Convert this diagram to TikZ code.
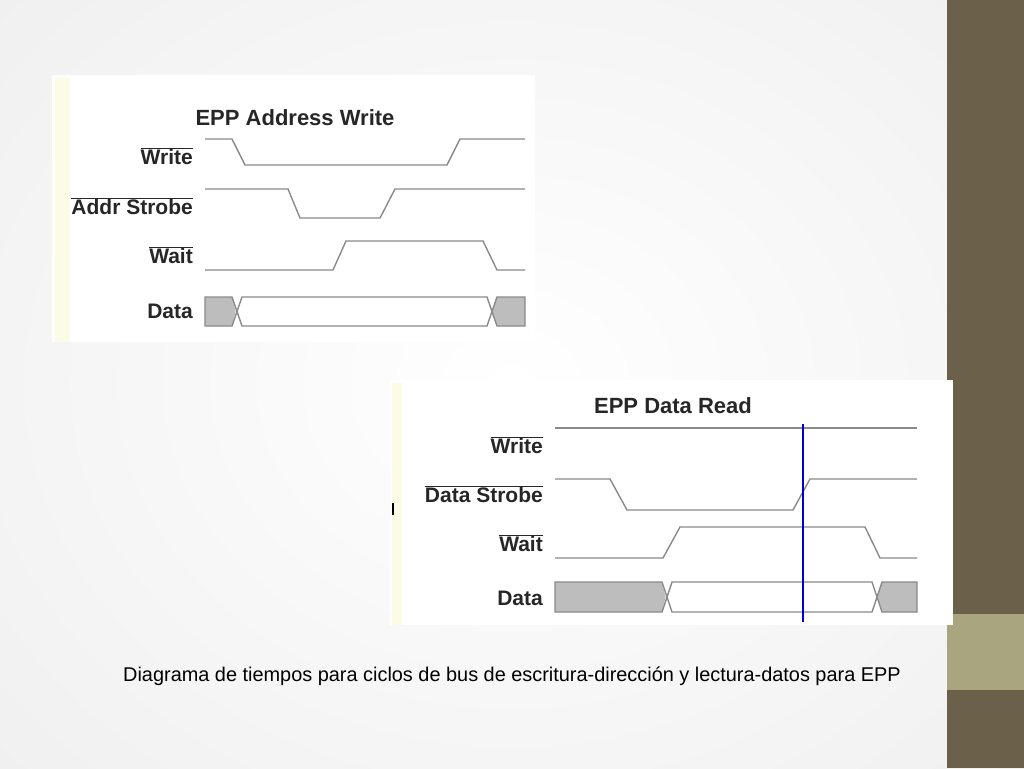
\documentclass[tikz,border=0pt]{standalone}
\usepackage{fontspec}
\setmainfont{Liberation Sans}
\definecolor{barbrown}{HTML}{6B614B}
\definecolor{barlight}{HTML}{A9A57E}
\definecolor{paleyel}{HTML}{FCFBE6}
\definecolor{wave}{HTML}{8A8A8A}
\definecolor{band}{HTML}{BDBDBD}
\tikzset{sig/.style={draw=wave, line width=1.4pt},
  lab/.style={anchor=east, font=\fontsize{21}{21}\selectfont\bfseries, inner sep=0pt, text=black!85},
  ttl/.style={font=\fontsize{22}{22}\selectfont\bfseries, inner sep=0pt, text=black!85}}
% data band: x0,x1 (gray left), x2,x3 (gray right), top, bottom
\def\databand(#1,#2,#3,#4,#5,#6){
  \fill[band] (#1,#5) -- (#2,#5) -- ({(#2+#2+7)/2},{(#5+#6)/2}) -- (#2,#6) -- (#1,#6) -- cycle;
  \fill[band] (#4,#5) -- (#3,#5) -- ({#3-5},{(#5+#6)/2}) -- (#3,#6) -- (#4,#6) -- cycle;
  \draw[sig] (#1,#5) -- (#2,#5) -- ({#2+10},#6) -- ({#3-10},#6) -- (#3,#5) -- (#4,#5) -- (#4,#6) -- (#3,#6) -- ({#3-10},#5) -- ({#2+10},#5) -- (#2,#6) -- (#1,#6) -- cycle;}
\begin{document}
\begin{tikzpicture}[x=1pt,y=-1pt]
\useasboundingbox (0,0) rectangle (1024,768);
\shade[inner color=white, outer color=gray!12] (-200,-200) rectangle (1224,968);
\fill[barbrown] (947,0) rectangle (1024,768);
\fill[barlight] (947,614) rectangle (1024,690);

% top panel
\fill[white] (52,75) rectangle (535,342);
\fill[paleyel] (55,78) rectangle (70,342);
\node[ttl] (t1) at (295,118) {EPP Address Write};
\node[lab] (w1) at (193,156) {$\overline{\mbox{\bfseries Write}}$};
\node[lab] (a1) at (193,206) {$\overline{\mbox{\bfseries Addr Strobe}}$};
\node[lab] (s1) at (193,255) {$\overline{\mbox{\bfseries Wait}}$};
\node[lab] (d1) at (193,311) {Data};
\draw[sig] (205,139) -- (232,139) -- (245,165) -- (447,165) -- (460,139) -- (525,139);
\draw[sig] (205,189) -- (288,189) -- (300,218) -- (380,218) -- (395,189) -- (525,189);
\draw[sig] (205,270) -- (333,270) -- (346,241) -- (483,241) -- (497,270) -- (525,270);
\databand(205,232,497,525,297,326)

% bottom panel
\fill[white] (390,380) rectangle (953,625);
\fill[paleyel] (392,383) rectangle (402,625);
\draw[line width=1.2pt] (393,503) -- (393,515);
\node[ttl] (t2) at (673,406) {EPP Data Read};
\node[lab] (w2) at (543,445) {$\overline{\mbox{\bfseries Write}}$};
\node[lab] (a2) at (543,494) {$\overline{\mbox{\bfseries Data Strobe}}$};
\node[lab] (s2) at (543,543) {$\overline{\mbox{\bfseries Wait}}$};
\node[lab] (d2) at (543,598) {Data};
\draw[sig] (555,428) -- (917,428);
\draw[sig] (555,479) -- (610,479) -- (627,510) -- (793,510) -- (810,479) -- (917,479);
\draw[sig] (555,558) -- (663,558) -- (680,527) -- (865,527) -- (880,558) -- (917,558);
\databand(555,662,882,917,582,612)
\coordinate (mtop) at (803,424);
\coordinate (mbot) at (803,622);
\draw[blue!80!black, line width=1.4pt] (mtop) -- (mbot);

\node[font=\fontsize{19.9}{19.9}\selectfont] (cap) at (512,676) {Diagrama de tiempos para ciclos de bus de escritura-dirección y lectura-datos para EPP};
\end{tikzpicture}
\end{document}
